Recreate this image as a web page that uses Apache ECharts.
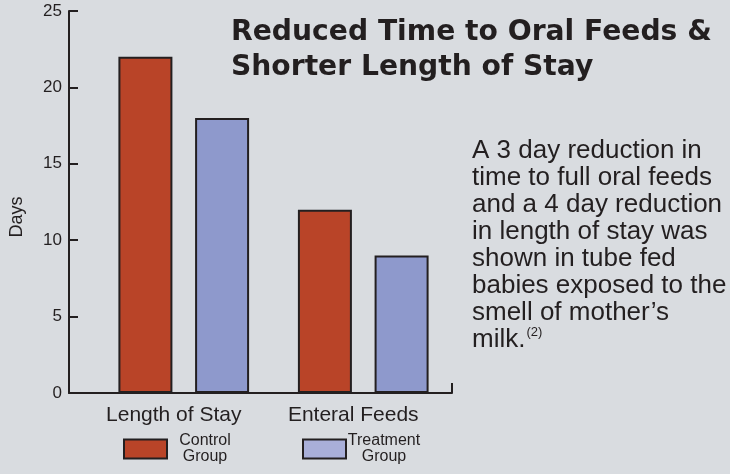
<!DOCTYPE html>
<html>
<head>
<meta charset="utf-8">
<script src="https://cdn.jsdelivr.net/npm/echarts@6/dist/echarts.min.js"></script>
<style>
  html, body { margin: 0; padding: 0; background: #d9dce0; }
  #chart { width: 730px; height: 474px; }
</style>
</head>
<body>
<div id="chart"></div>
<script>
const categories = ['Length of Stay', 'Enteral Feeds'];
const controlValues = [22, 12];
const treatmentValues = [18, 9];
const yTicks = { min: 0, max: 25, interval: 5 };

const ink = '#231f20';
const red = '#b94428';
const blue = '#8e99cc';

const chart = echarts.init(document.getElementById('chart'));

// legend text centred beside the swatch, two lines
const legendText = (w, padLeft) => ({
  fontFamily: 'Liberation Sans',
  fontSize: 16,
  color: ink,
  padding: [0, 0, 0, padLeft],
  rich: {
    c: { fontFamily: 'Liberation Sans', fontSize: 16, lineHeight: 16, width: w, align: 'center', color: ink }
  }
});

const option = {
  backgroundColor: '#d9dce0',
  animation: false,
  title: [
    {
      text: 'Reduced Time to Oral Feeds &\nShorter Length of Stay',
      left: 226,
      top: 10,
      textStyle: {
        fontFamily: 'DejaVu Sans',
        fontWeight: 'bold',
        fontSize: 28.2,
        lineHeight: 35,
        color: ink
      }
    },
    {
      text: 'A 3 day reduction in\ntime to full oral feeds\nand a 4 day reduction\nin length of stay was\nshown in tube fed\nbabies exposed to the\nsmell of mother\u2019s\nmilk.{sup|(2)}',
      left: 467,
      top: 132,
      textStyle: {
        fontFamily: 'Liberation Sans',
        fontWeight: 'normal',
        fontSize: 26,
        lineHeight: 27,
        color: ink,
        rich: {
          sup: {
            fontFamily: 'Liberation Sans',
            fontWeight: 'normal',
            fontSize: 13,
            verticalAlign: 'top',
            padding: [0, 0, 16, 1],
            color: ink
          }
        }
      }
    }
  ],
  legend: [
    {
      left: 118,
      top: 428,
      icon: 'rect',
      itemWidth: 43,
      itemHeight: 19,
      data: [{ name: 'Control', itemStyle: { color: red, borderColor: ink, borderWidth: 2 } }],
      formatter: () => '{c|Control}\n{c|Group}',
      textStyle: legendText(58, 4)
    },
    {
      left: 297,
      top: 428,
      icon: 'rect',
      itemWidth: 43,
      itemHeight: 19,
      data: [{ name: 'Treatment', itemStyle: { color: '#a9afd9', borderColor: ink, borderWidth: 2 } }],
      formatter: () => '{c|Treatment}\n{c|Group}',
      textStyle: legendText(66, 0)
    }
  ],
  graphic: [
    {
      type: 'text',
      x: 17,
      y: 217,
      rotation: Math.PI / 2,
      style: {
        text: 'Days',
        fontFamily: 'Liberation Sans',
        fontSize: 18,
        fill: ink,
        align: 'center',
        verticalAlign: 'middle'
      }
    }
  ],
  grid: [
    { left: 69, right: 278, top: 11, bottom: 81 },
    { left: 94, right: 277, top: 11, bottom: 81 }
  ],
  xAxis: [
    {
      gridIndex: 0,
      type: 'value',
      min: 0,
      max: 1,
      interval: 1,
      axisLine: { show: true, lineStyle: { color: ink, width: 2 } },
      axisTick: { show: true, inside: true, length: 10, lineStyle: { color: ink, width: 2 } },
      axisLabel: { show: false },
      splitLine: { show: false }
    },
    {
      gridIndex: 1,
      type: 'category',
      data: categories,
      axisLine: { show: false },
      axisTick: { show: false },
      axisLabel: {
        margin: 12,
        fontFamily: 'Liberation Sans',
        fontSize: 21,
        color: ink,
        padding: [0, 20, 0, 0]
      }
    }
  ],
  yAxis: [
    {
      gridIndex: 0,
      type: 'value',
      min: yTicks.min,
      max: yTicks.max,
      interval: yTicks.interval,
      axisLine: { show: true, lineStyle: { color: ink, width: 2 } },
      axisTick: { show: true, inside: true, length: 9, lineStyle: { color: ink, width: 2 } },
      axisLabel: { margin: 7, fontFamily: 'Liberation Sans', fontSize: 17, color: ink },
      splitLine: { show: false }
    },
    {
      gridIndex: 1,
      type: 'value',
      min: yTicks.min,
      max: yTicks.max,
      interval: yTicks.interval,
      show: false
    }
  ],
  series: [
    {
      name: 'Control',
      type: 'bar',
      xAxisIndex: 1,
      yAxisIndex: 1,
      barWidth: 54,
      barGap: '42%',
      itemStyle: { color: red, borderColor: ink, borderWidth: 2 },
      data: controlValues
    },
    {
      name: 'Treatment',
      type: 'bar',
      xAxisIndex: 1,
      yAxisIndex: 1,
      barWidth: 54,
      barGap: '42%',
      itemStyle: { color: blue, borderColor: ink, borderWidth: 2 },
      data: treatmentValues
    }
  ]
};

chart.setOption(option);
</script>
</body>
</html>
